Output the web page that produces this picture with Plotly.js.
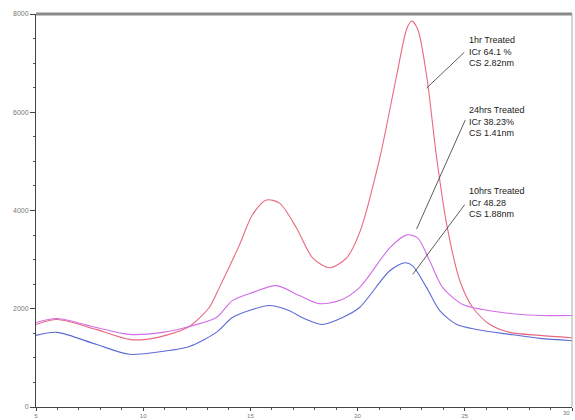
<!DOCTYPE html>
<html>
<head>
<meta charset="utf-8">
<script src="https://cdn.plot.ly/plotly-3.0.1.min.js"></script>
<style>html,body{margin:0;padding:0;background:#fff;}#chart{width:575px;height:420px;}</style>
</head>
<body>
<div id="chart"></div>
<script>
// 2-theta (degrees) and intensity values
const xRed = [5, 5.98, 7.8, 9.35, 10.14, 11.21, 12.15, 13.08, 13.55, 14.49, 15.09, 15.75, 16.36, 17.15, 17.9, 18.69, 19.49, 20.09, 21.03, 21.82, 22.29, 22.52, 22.8, 23.22, 23.69, 24.16, 24.77, 25.37, 26.17, 27.1, 28.5, 30];
const yRed = [1680, 1782, 1580, 1377, 1377, 1478, 1640, 2025, 2430, 3300, 3908, 4212, 4151, 3645, 3038, 2835, 3038, 3544, 5063, 6743, 7695, 7857, 7695, 6743, 5063, 3706, 2571, 2025, 1680, 1519, 1458, 1410];

const xMag = [5, 5.98, 7.8, 9.35, 10.89, 12.15, 13.41, 14.16, 15.09, 16.21, 17.29, 18.22, 19.16, 20.09, 21.5, 22.29, 22.8, 23.36, 23.97, 24.91, 25.84, 27.1, 28.5, 30];
const yMag = [1721, 1802, 1620, 1478, 1519, 1640, 1822, 2166, 2328, 2470, 2268, 2105, 2166, 2430, 3240, 3504, 3443, 2976, 2430, 2085, 1984, 1903, 1862, 1862];

const xBlue = [5, 5.98, 7.8, 9.35, 10.61, 12.15, 13.41, 14.16, 15.09, 15.89, 16.68, 17.62, 18.36, 19.3, 20.09, 21.5, 22.2, 22.57, 23.22, 23.83, 24.63, 25.56, 27.1, 28.5, 30];
const yBlue = [1458, 1519, 1276, 1073, 1114, 1230, 1519, 1822, 1984, 2065, 1984, 1782, 1680, 1822, 2025, 2773, 2935, 2874, 2430, 1963, 1680, 1579, 1478, 1397, 1350];

const seriesNames = ["1hr Treated", "24hrs Treated", "10hrs Treated"];
const labelTexts = [
  "1hr Treated<br>ICr 64.1 %<br>CS 2.82nm",
  "24hrs Treated<br>ICr 38.23%<br>CS 1.41nm",
  "10hrs Treated<br>ICr 48.28<br>CS 1.88nm"
];
const xTickVals = [5, 10, 15, 20, 25, 30];
const yTickVals = [0, 2000, 4000, 6000, 8000];

const mk = (x, y, name, color) => ({
  x: x, y: y, name: name, type: 'scatter', mode: 'lines',
  line: {color: color, width: 1.1, shape: 'spline', smoothing: 0.8},
  hoverinfo: 'skip'
});

const data = [
  mk(xRed, yRed, seriesNames[0], '#e8687e'),
  mk(xMag, yMag, seriesNames[1], '#d26ee6'),
  mk(xBlue, yBlue, seriesNames[2], '#5d6bd6')
];

const txtFont = {family: 'Liberation Sans Narrow, Arial Narrow, Liberation Sans, sans-serif', size: 9, color: '#222'};
const lastTick = xTickVals[xTickVals.length - 1];
const annotations = [
  // leader lines: head on curve, tail near the label
  {x: xRed[23], y: yRed[23] - 250, ax: 25.05, ay: 7250, axref: 'x', ayref: 'y', xref: 'x', yref: 'y', text: '', showarrow: true, arrowhead: 0, arrowwidth: 0.8, arrowcolor: '#333'},
  {x: 22.75, y: 3620, ax: 25.05, ay: 5870, axref: 'x', ayref: 'y', xref: 'x', yref: 'y', text: '', showarrow: true, arrowhead: 0, arrowwidth: 0.8, arrowcolor: '#333'},
  {x: 22.57, y: 2700, ax: 25.05, ay: 4150, axref: 'x', ayref: 'y', xref: 'x', yref: 'y', text: '', showarrow: true, arrowhead: 0, arrowwidth: 0.8, arrowcolor: '#333'},
  {x: 25.1, y: 7620, xref: 'x', yref: 'y', text: labelTexts[0], showarrow: false, xanchor: 'left', yanchor: 'top', align: 'left', font: txtFont},
  {x: 25.1, y: 6190, xref: 'x', yref: 'y', text: labelTexts[1], showarrow: false, xanchor: 'left', yanchor: 'top', align: 'left', font: txtFont},
  {x: 25.1, y: 4530, xref: 'x', yref: 'y', text: labelTexts[2], showarrow: false, xanchor: 'left', yanchor: 'top', align: 'left', font: txtFont},
  // last x tick label, kept inside the page at the right edge
  {x: lastTick, y: 0, xref: 'x', yref: 'paper', text: String(lastTick), showarrow: false, xanchor: 'right', yanchor: 'top', yshift: -1, font: {family: 'Liberation Sans Narrow, Liberation Sans, sans-serif', size: 6, color: '#777'}}
];

const layout = {
  width: 575, height: 420,
  margin: {l: 36, r: 3, t: 14, b: 13, pad: 0},
  paper_bgcolor: '#ffffff', plot_bgcolor: '#ffffff',
  showlegend: false,
  font: {family: 'Liberation Sans Narrow, Liberation Sans, sans-serif', size: 7, color: '#666'},
  xaxis: {
    range: [5, 30], tickvals: xTickVals, ticktext: xTickVals.map(String),
    showgrid: false, zeroline: false, showline: true, linecolor: '#444', linewidth: 1,
    ticks: 'outside', ticklen: 3, tickcolor: '#444', tickwidth: 1, ticklabelstandoff: 0,
    minor: {dtick: 1, ticks: 'outside', ticklen: 2, tickcolor: '#555', showgrid: false},
    tickfont: {size: 6, color: '#777'}, fixedrange: true
  },
  yaxis: {
    range: [0, 8000], tickvals: yTickVals, ticktext: yTickVals.map(String),
    showgrid: false, zeroline: false, showline: true, linecolor: '#444', linewidth: 1,
    ticks: 'outside', ticklen: 5, tickcolor: '#444', tickwidth: 1,
    minor: {dtick: 500, ticks: 'outside', ticklen: 2, tickcolor: '#555', showgrid: false},
    tickfont: {size: 7, color: '#777'}, fixedrange: true
  },
  shapes: [
    {type: 'line', xref: 'paper', yref: 'paper', x0: 0, x1: 1, y0: 1, y1: 1, line: {color: '#8a8a8a', width: 3}},
    {type: 'line', xref: 'paper', yref: 'paper', x0: 1, x1: 1, y0: 0, y1: 1, line: {color: '#aaaaaa', width: 1}}
  ],
  annotations: annotations
};

Plotly.newPlot('chart', data, layout, {staticPlot: true, displayModeBar: false});
</script>
</body>
</html>
